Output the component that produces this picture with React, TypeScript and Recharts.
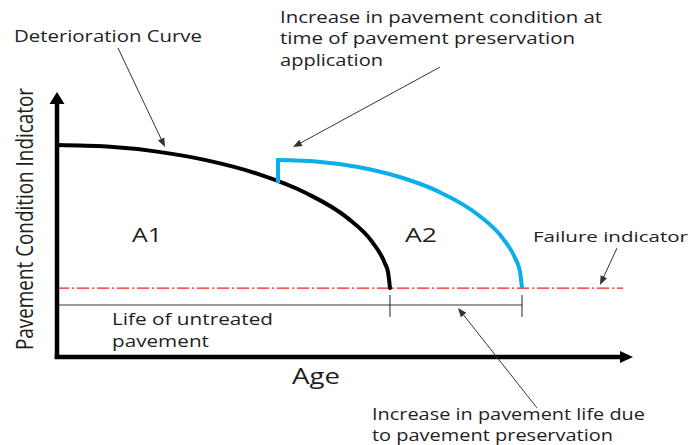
import React from 'react';
import { LineChart, Line, XAxis, YAxis, ReferenceLine, ReferenceDot } from 'recharts';

// ---- Data (Age on x, Pavement Condition Indicator on y, arbitrary 0-100 units) ----
const deteriorationAge = [0, 8.68, 17.36, 26.04, 34.72, 43.4, 50.35, 54.69, 56.94, 57.47, 57.81];
const deteriorationPCI = [80.0, 79.4, 77.5, 74.2, 69.2, 61.7, 52.6, 43.5, 35.3, 32.0, 26.0];

const preservedAge = [38.37, 45.31, 52.26, 59.2, 66.15, 73.09, 77.43, 79.51, 80.38, 80.73];
const preservedPCI = [74.3, 73.7, 71.7, 68.1, 62.5, 53.7, 44.7, 37.4, 32.2, 26.0];

const jumpAge = [38.37, 38.37];
const jumpPCI = [66.4, 74.3];

const failurePCI = 26.0;
const untreatedLifeEnd = 57.81;
const treatedLifeEnd = 80.73;

const topNoteLines = ['Increase in pavement condition at', 'time of pavement preservation', 'application'];
const bottomNoteLines = ['Increase in pavement life due', 'to pavement preservation'];
const lifeLines = ['Life of untreated', 'pavement'];
const curveLabel = 'Deterioration Curve';
const failureLabel = 'Failure indicator';
const areaLabels = ['A1', 'A2'];
const xTitle = 'Age';
const yTitle = 'Pavement Condition Indicator';

const toPoints = (xs: number[], ys: number[]) => xs.map((x, i) => ({ x, y: ys[i] }));
const deteriorationData = toPoints(deteriorationAge, deteriorationPCI);
const preservedData = toPoints(preservedAge, preservedPCI);
const jumpData = toPoints(jumpAge, jumpPCI);

const FONT = '"Open Sans", "Noto Sans", sans-serif';
const TEXT_COLOR = '#1e1e1e';

const arrowShape = (color: string, width: number, headLen: number, headHalf: number) => (p: any) => {
  const { x1, y1, x2, y2 } = p;
  const dx = x2 - x1;
  const dy = y2 - y1;
  const len = Math.sqrt(dx * dx + dy * dy) || 1;
  const ux = dx / len;
  const uy = dy / len;
  const bx = x2 - ux * headLen;
  const by = y2 - uy * headLen;
  const px = -uy * headHalf;
  const py = ux * headHalf;
  return (
    <g>
      <line x1={x1} y1={y1} x2={bx + ux * 1} y2={by + uy * 1} stroke={color} strokeWidth={width} />
      <polygon points={`${x2},${y2} ${bx + px},${by + py} ${bx - px},${by - py}`} fill={color} />
    </g>
  );
};

const textShape = (text: string, size: number, len: number, anchor: string = 'start') => (p: any) => (
  <text
    x={p.cx}
    y={p.cy}
    fontFamily={FONT}
    fontSize={size}
    fill={TEXT_COLOR}
    textAnchor={anchor}
    textLength={len}
    lengthAdjust="spacingAndGlyphs"
  >
    {text}
  </text>
);

const rotatedTextShape = (text: string, size: number, len: number) => (p: any) => (
  <text
    x={p.cx}
    y={p.cy}
    transform={`rotate(-90 ${p.cx} ${p.cy})`}
    fontFamily={FONT}
    fontSize={size}
    fill={TEXT_COLOR}
    textAnchor="middle"
    textLength={len}
    lengthAdjust="spacingAndGlyphs"
  >
    {text}
  </text>
);

const textMarks = [
  { t: curveLabel, x: -7.47, y: 118.7, size: 15.5, len: 188 },
  { t: topNoteLines[0], x: 38.72, y: 126.1, size: 16, len: 322 },
  { t: topNoteLines[1], x: 38.72, y: 118.0, size: 16, len: 295 },
  { t: topNoteLines[2], x: 38.72, y: 109.9, size: 16, len: 103 },
  { t: areaLabels[0], x: 13.02, y: 43.4, size: 20, len: 30 },
  { t: areaLabels[1], x: 60.42, y: 43.4, size: 20, len: 32 },
  { t: failureLabel, x: 82.64, y: 43.4, size: 15, len: 155 },
  { t: lifeLines[0], x: 9.55, y: 12.08, size: 15.5, len: 161 },
  { t: lifeLines[1], x: 9.55, y: 3.77, size: 15.5, len: 97 },
  { t: xTitle, x: 40.8, y: -10.19, size: 21, len: 48 },
  { t: bottomNoteLines[0], x: 54.69, y: -23.77, size: 15.5, len: 273 },
  { t: bottomNoteLines[1], x: 54.69, y: -31.7, size: 15.5, len: 241 },
];

const thinArrows = [
  { a: { x: 10.59, y: 116.6 }, b: { x: 18.75, y: 79.2 } },
  { a: { x: 66.49, y: 109.4 }, b: { x: 40.97, y: 79.2 } },
  { a: { x: 97.22, y: 41.1 }, b: { x: 94.27, y: 27.2 } },
  { a: { x: 83.33, y: -19.2 }, b: { x: 69.62, y: 18.5 } },
];

export default function App() {
  return (
    <div style={{ position: 'absolute', left: 0, top: 0, width: 690, height: 445, background: '#fff' }}>
      <LineChart width={690} height={445} margin={{ top: 92, right: 57, bottom: 88, left: 57 }}>
        <XAxis type="number" dataKey="x" domain={[0, 100]} allowDataOverflow hide />
        <YAxis type="number" dataKey="y" domain={[0, 100]} allowDataOverflow hide />

        {/* failure indicator */}
        <ReferenceLine
          segment={[{ x: 0, y: failurePCI }, { x: 98.26, y: failurePCI }]}
          stroke="#ff1a1a"
          strokeWidth={1.2}
          strokeDasharray="12 3 2 3"
          ifOverflow="visible"
        />
        {/* life dimension line */}
        <ReferenceLine
          segment={[{ x: 0, y: 19.62 }, { x: treatedLifeEnd, y: 19.62 }]}
          stroke="#7a7a7a"
          strokeWidth={1.6}
          ifOverflow="visible"
        />
        <ReferenceLine
          segment={[{ x: untreatedLifeEnd, y: 23.4 }, { x: untreatedLifeEnd, y: 15.1 }]}
          stroke="#222"
          strokeWidth={1}
          ifOverflow="visible"
        />
        <ReferenceLine
          segment={[{ x: treatedLifeEnd, y: 23.4 }, { x: treatedLifeEnd, y: 15.1 }]}
          stroke="#222"
          strokeWidth={1}
          ifOverflow="visible"
        />

        <Line
          data={deteriorationData}
          dataKey="y"
          type="monotone"
          stroke="#000"
          strokeWidth={4}
          strokeLinecap="round"
          dot={false}
          activeDot={false}
          isAnimationActive={false}
        />
        <Line
          data={preservedData}
          dataKey="y"
          type="monotone"
          stroke="#0aaeea"
          strokeWidth={4}
          dot={false}
          activeDot={false}
          isAnimationActive={false}
        />
        <Line
          data={jumpData}
          dataKey="y"
          type="linear"
          stroke="#0aaeea"
          strokeWidth={4}
          strokeLinecap="square"
          dot={false}
          activeDot={false}
          isAnimationActive={false}
        />

        {/* axes with arrow heads */}
        <ReferenceLine
          segment={[{ x: 0, y: -0.8 }, { x: 0, y: 100 }]}
          ifOverflow="visible"
          shape={arrowShape('#000', 4.5, 12, 7.5)}
        />
        <ReferenceLine
          segment={[{ x: -0.4, y: 0 }, { x: 100, y: 0 }]}
          ifOverflow="visible"
          shape={arrowShape('#000', 4.5, 13, 6)}
        />

        {thinArrows.map((ar, i) => (
          <ReferenceLine
            key={`ar${i}`}
            segment={[ar.a, ar.b]}
            ifOverflow="visible"
            shape={arrowShape('#333', 1, 9, 3.5)}
          />
        ))}

        {textMarks.map((m, i) => (
          <ReferenceDot
            key={`t${i}`}
            x={m.x}
            y={m.y}
            r={0}
            ifOverflow="visible"
            shape={textShape(m.t, m.size, m.len)}
          />
        ))}
        <ReferenceDot
          x={-4.17}
          y={52.08}
          r={0}
          ifOverflow="visible"
          shape={rotatedTextShape(yTitle, 24, 262)}
        />
      </LineChart>
    </div>
  );
}
